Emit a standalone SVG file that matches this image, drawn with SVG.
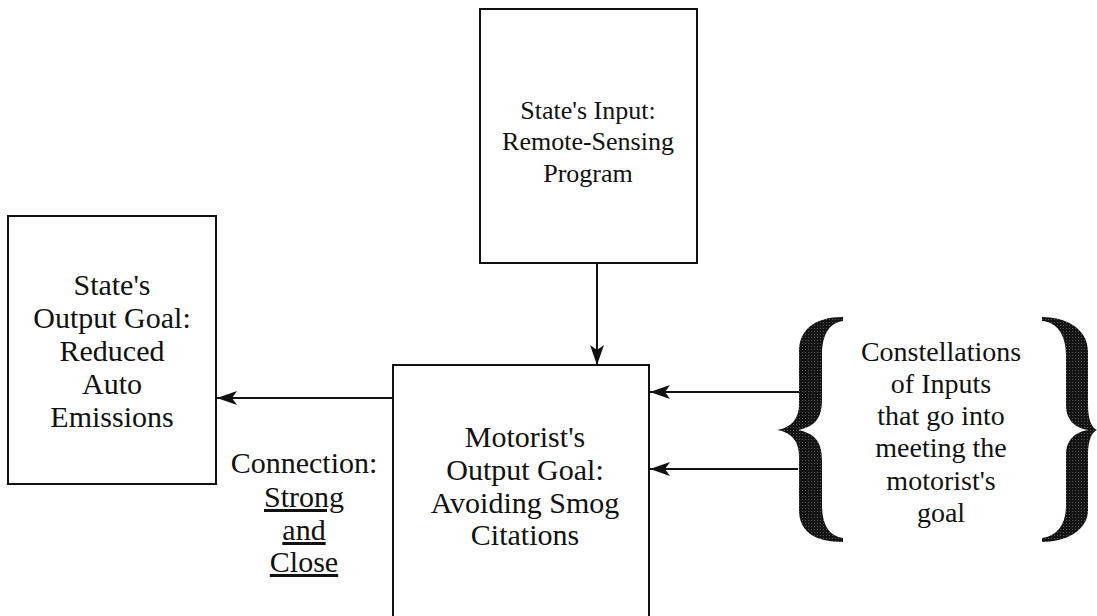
<svg xmlns="http://www.w3.org/2000/svg" width="1097" height="616" viewBox="0 0 1097 616">
  <defs>
    <style>
      .box { fill: #ffffff; stroke: #111111; stroke-width: 2; }
      .edge { fill: none; stroke: #111111; stroke-width: 2; }
      .lbl { font-family: "Liberation Serif", "Times New Roman", serif; fill: #111111; text-anchor: middle; }
      .big { font-size: 30px; }
      .mid { font-size: 28px; }
      .small { font-size: 26px; }
      .ul { text-decoration: underline; }
      .brace { fill: url(#stipple); }
    </style>
    <!-- halftone texture used for the curly braces -->
    <pattern id="stipple" width="3" height="3" patternUnits="userSpaceOnUse">
      <rect width="3" height="3" fill="#141414"/>
      <rect x="1" y="1" width="1" height="1" fill="#555555"/>
    </pattern>
    <marker id="arrow" viewBox="0 0 20 14" refX="20" refY="7" markerWidth="20" markerHeight="14" markerUnits="userSpaceOnUse" orient="auto">
      <path d="M0,0 L20,7 L0,14 L5,7 Z" fill="#111111"/>
    </marker>
  </defs>

  <!-- connectors -->
  <g id="connectors">
    <line class="edge" x1="597" y1="263" x2="597" y2="365" marker-end="url(#arrow)"/>
    <line class="edge" x1="393" y1="398" x2="217" y2="398" marker-end="url(#arrow)"/>
    <line class="edge" x1="800" y1="392" x2="650" y2="392" marker-end="url(#arrow)"/>
    <line class="edge" x1="798" y1="469" x2="650" y2="469" marker-end="url(#arrow)"/>
  </g>

  <!-- State's Input -->
  <g id="state-input">
    <rect class="box" x="480" y="9" width="217" height="254"/>
    <text class="lbl small" x="588" y="119">State's Input:</text>
    <text class="lbl small" x="588" y="150">Remote-Sensing</text>
    <text class="lbl small" x="588" y="182">Program</text>
  </g>

  <!-- State's Output Goal -->
  <g id="state-output">
    <rect class="box" x="8" y="216" width="208" height="268"/>
    <text class="lbl big" x="112" y="295">State's</text>
    <text class="lbl big" x="112" y="328">Output Goal:</text>
    <text class="lbl big" x="112" y="361">Reduced</text>
    <text class="lbl big" x="112" y="394">Auto</text>
    <text class="lbl big" x="112" y="427">Emissions</text>
  </g>

  <!-- Motorist's Output Goal (box runs off the bottom edge) -->
  <g id="motorist-output">
    <path class="box" d="M393,620 V365 H649 V620"/>
    <text class="lbl big" x="525" y="447">Motorist's</text>
    <text class="lbl big" x="525" y="480">Output Goal:</text>
    <text class="lbl big" x="525" y="513">Avoiding Smog</text>
    <text class="lbl big" x="525" y="545">Citations</text>
  </g>

  <!-- connection label -->
  <g id="connection-label">
    <text class="lbl big" x="304" y="473">Connection:</text>
    <text class="lbl big ul" x="304" y="507">Strong</text>
    <text class="lbl big ul" x="304" y="540">and</text>
    <text class="lbl big ul" x="304" y="572">Close</text>
  </g>

  <!-- bracketed inputs -->
  <g id="constellations">
    <path class="brace" d="M843,317 C814,317 799,330 799,352 L799,404 C799,420 790,428 777,430 C790,432 799,440 799,456 L799,510 C799,531 814,542 843,542 L843,538 C829,536 822,525 822,505 L822,460 C822,440 813,433 798,430 C813,427 822,420 822,400 L822,355 C822,335 829,323 843,321 Z"/>
    <path class="brace" d="M1042,317 C1065,317 1088,328 1088,352 L1088,405 C1088,420 1092,428 1097,430 C1092,432 1088,440 1088,455 L1088,510 C1088,531 1065,542 1042,542 L1042,538 C1057,536 1066,525 1066,505 L1066,455 C1066,440 1075,432 1088,430 C1075,428 1066,420 1066,405 L1066,355 C1066,335 1057,322 1042,321 Z"/>
    <text class="lbl mid" x="941" y="361">Constellations</text>
    <text class="lbl mid" x="941" y="393">of Inputs</text>
    <text class="lbl mid" x="941" y="425">that go into</text>
    <text class="lbl mid" x="941" y="457">meeting the</text>
    <text class="lbl mid" x="941" y="490">motorist's</text>
    <text class="lbl mid" x="941" y="522">goal</text>
  </g>
</svg>
